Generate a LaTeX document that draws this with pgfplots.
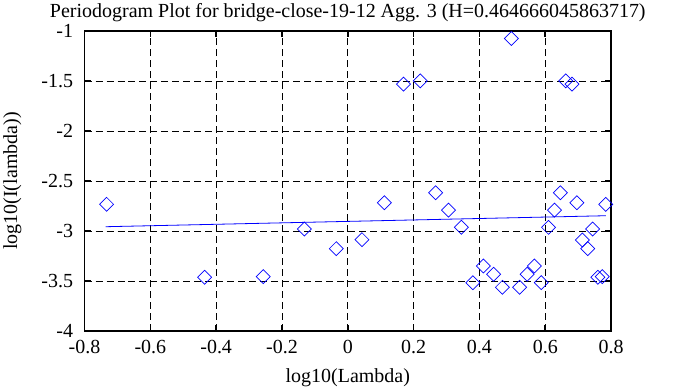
\documentclass[border=0pt]{standalone}
\usepackage{fontspec}
\setmainfont{Liberation Serif}
\usepackage{pgfplots}
\pgfplotsset{compat=1.18}
\definecolor{gblue}{RGB}{0,0,255}
\begin{document}
\begin{tikzpicture}
\begin{axis}[name=ax, scale only axis, width=527bp, height=300bp,
  xmin=-0.8, xmax=0.8, ymin=-4, ymax=-1,
  xtick={-0.8,-0.6,-0.4,-0.2,0,0.2,0.4,0.6,0.8},
  ytick={-4,-3.5,-3,-2.5,-2,-1.5,-1},
  grid=major,
  major grid style={black, dash pattern=on 7bp off 4bp, line width=0.7bp},
  axis line style={line width=1.6bp},
  tick style={line width=1.6bp, black},
  major tick length=6bp, tick align=inside,
  /pgf/number format/assume math mode=true,
  ticklabel style={font=\fontsize{20bp}{23bp}\selectfont},
  xticklabel style={yshift=-6bp},
  yticklabel style={xshift=-8bp},
  label style={font=\fontsize{20bp}{23bp}\selectfont},
  xlabel style={at={(axis description cs:0.5,-0.155)}, anchor=center},
  ylabel style={at={(axis description cs:-0.137,0.5)}, anchor=center},
  title style={font=\fontsize{20bp}{23bp}\selectfont},
  title={Periodogram Plot for bridge-close-19-12 Agg. 3 (H=0.464666045863717)},
  xlabel={log10(Lambda)},
  ylabel={log10(I(lambda))},
  clip=false,
]
\addplot[gblue, only marks, mark=square, mark size=4.95bp, mark options={rotate=45, line width=0.7bp}] coordinates {
(-0.733,-2.733) (-0.435,-3.463) (-0.257,-3.457) (-0.132,-2.980) (-0.035,-3.177)
(0.043,-3.087) (0.111,-2.717) (0.169,-1.530) (0.220,-1.497) (0.267,-2.617)
(0.306,-2.790) (0.345,-2.963) (0.380,-3.517) (0.412,-3.350) (0.443,-3.433)
(0.470,-3.563) (0.497,-1.073) (0.522,-3.563) (0.545,-3.433) (0.567,-3.350)
(0.588,-3.517) (0.610,-2.963) (0.628,-2.790) (0.646,-2.617) (0.662,-1.497)
(0.681,-1.530) (0.696,-2.717) (0.713,-3.090) (0.729,-3.177) (0.744,-2.980)
(0.760,-3.463) (0.773,-3.457) (0.784,-2.733)
};
\addplot[gblue, line width=0.8bp, no marks] coordinates {(-0.736,-2.957) (0.784,-2.847)};
\end{axis}
\path (ax.south west) ++(-84bp,-56bp) rectangle ++(695bp,387bp);
\end{tikzpicture}
\end{document}
